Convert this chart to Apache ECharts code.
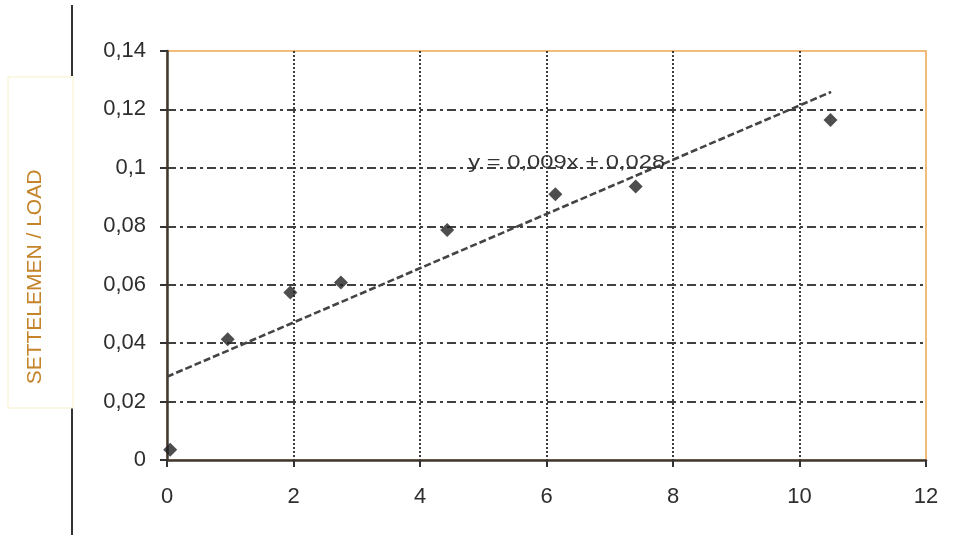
<!DOCTYPE html>
<html>
<head>
<meta charset="utf-8">
<script src="https://cdn.jsdelivr.net/npm/echarts@6/dist/echarts.min.js"></script>
<style>html,body{margin:0;padding:0;background:#fff;}#c{width:960px;height:535px;}</style>
</head>
<body>
<div id="c"></div>
<script>
// Data
const loadX = [0.05, 0.96, 1.95, 2.75, 4.43, 6.14, 7.41, 10.49];
const ratioY = [0.0035, 0.0413, 0.0573, 0.0608, 0.0787, 0.091, 0.0936, 0.1164];
const trendX = [0, 10.5];
const trendY = [0.0285, 0.126];
const equationText = 'y = 0,009x + 0,028';
const yTitle = 'SETTELEMEN / LOAD';

const chart = echarts.init(document.getElementById('c'), null, {renderer: 'canvas'});
const comma = v => {
  const s = (Math.round(v * 100) / 100).toString();
  return s.replace('.', ',');
};
const labelStyle = {color: '#2e2e2e', fontFamily: 'Liberation Sans, Arial, sans-serif', fontSize: 22};

chart.setOption({
  animation: false,
  backgroundColor: '#fff',
  grid: {left: 167, right: 34, top: 51, bottom: 75, show: true, borderColor: '#eea650', borderWidth: 1.5, backgroundColor: 'transparent'},
  xAxis: {
    type: 'value', min: 0, max: 12, interval: 2,
    axisLine: {show: true, onZero: false, lineStyle: {color: '#3e3830', width: 2.5}},
    axisTick: {show: true, inside: false, length: 7, lineStyle: {color: '#333', width: 2}},
    axisLabel: Object.assign({margin: 26}, labelStyle),
    splitLine: {show: true, showMinLine: false, showMaxLine: false, lineStyle: {color: '#3c3c3c', width: 2, type: [2, 2]}}
  },
  yAxis: {
    type: 'value', min: 0, max: 0.14, interval: 0.02,
    axisLine: {show: true, onZero: false, lineStyle: {color: '#3e3830', width: 2.5}},
    axisTick: {show: true, inside: false, length: 7, lineStyle: {color: '#333', width: 2}},
    axisLabel: Object.assign({margin: 21, formatter: comma}, labelStyle),
    splitLine: {show: true, showMinLine: false, showMaxLine: false, lineStyle: {color: '#404040', width: 2, type: [9, 4, 3, 4]}}
  },
  series: [
    {
      type: 'line', data: trendX.map((x, i) => [x, trendY[i]]),
      symbol: 'none', lineStyle: {color: '#444', width: 2.6, type: [7, 3]}, z: 3
    },
    {
      type: 'scatter', data: loadX.map((x, i) => [x, ratioY[i]]),
      symbol: 'diamond', symbolSize: 14, itemStyle: {color: '#222'}, z: 4
    }
  ]
});

const eqPt = chart.convertToPixel({gridIndex: 0}, [6.32, 0.1017]);
chart.setOption({
  graphic: [
    {type: 'line', shape: {x1: 72, y1: 5, x2: 72, y2: 76}, style: {stroke: '#333', lineWidth: 2}},
    {type: 'line', shape: {x1: 72, y1: 408, x2: 72, y2: 535}, style: {stroke: '#333', lineWidth: 2}},
    {type: 'rect', shape: {x: 8, y: 77, width: 65, height: 331}, style: {fill: '#fff', stroke: '#f8f0cc', lineWidth: 1}},
    {type: 'text', x: 35, y: 277, rotation: Math.PI / 2,
      style: {text: yTitle, fill: '#c4842a', font: '21px "Liberation Sans", Arial, sans-serif', align: 'center', verticalAlign: 'middle'}},
    {type: 'text', x: eqPt[0], y: eqPt[1], scaleX: 1.25, z: 10,
      style: {text: equationText, fill: '#333', font: '19px "Liberation Sans", Arial, sans-serif', align: 'center', verticalAlign: 'middle'}}
  ]
});
</script>
</body>
</html>
